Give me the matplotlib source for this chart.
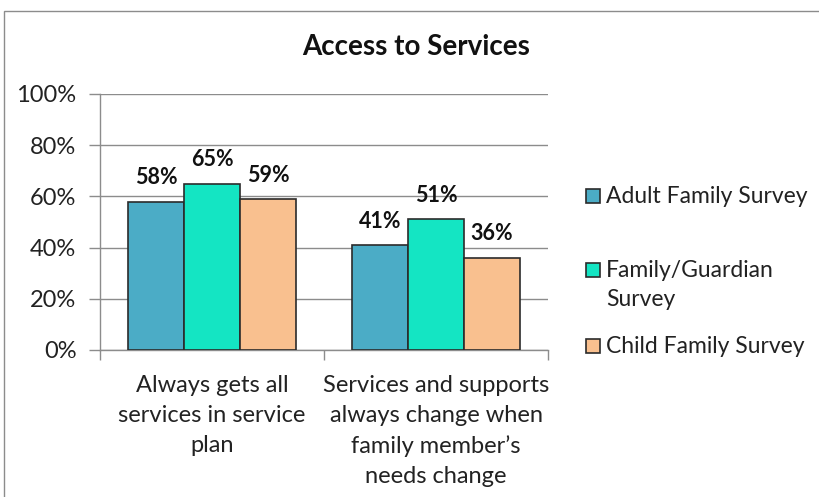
import matplotlib
matplotlib.use("Agg")
import matplotlib.pyplot as plt
from matplotlib.patches import Rectangle
import numpy as np

plt.rcParams['font.family'] = ['Lato', 'DejaVu Sans']

# Data
categories = ["Always gets all\nservices in service\nplan",
              "Services and supports\nalways change when\nfamily member\u2019s\nneeds change"]
series_names = ["Adult Family Survey", "Family/Guardian\nSurvey", "Child Family Survey"]
adult = [58, 41]
family_guardian = [65, 51]
child = [59, 36]
series_values = [adult, family_guardian, child]
colors = ["#4BACC6", "#14E5C3", "#F9C08F"]
yticks = [0, 20, 40, 60, 80, 100]
ytick_labels = ["0%", "20%", "40%", "60%", "80%", "100%"]

W, H = 819, 497
fig = plt.figure(figsize=(W / 100, H / 100), dpi=100)

# outer chart border
fig.patches.append(Rectangle((4 / W, -0.05), 1.2, 1 - 11 / H + 0.05,
                             transform=fig.transFigure, fill=False,
                             edgecolor="#8C8C8C", linewidth=1.0))

ax = fig.add_axes([100 / W, 1 - 350 / H, 448 / W, 256 / H])

x = np.arange(len(categories)) + 0.5
bw = 0.25
for i, (vals, col) in enumerate(zip(series_values, colors)):
    pos = x + (i - 1) * bw
    bars = ax.bar(pos, vals, width=bw, color=col, edgecolor="#2B2B2B",
                  linewidth=1.2, zorder=3)
    for b, v in zip(bars, vals):
        ax.annotate(f"{v}%", (b.get_x() + b.get_width() / 2, v),
                    xytext=(0, 12.5), textcoords="offset points",
                    ha="center", va="baseline", fontsize=15.5,
                    fontweight="bold", color="#111111")

ax.set_xlim(0, len(categories))
ax.set_ylim(0, 100)
ax.set_yticks(yticks)
ax.set_yticklabels(ytick_labels, fontsize=17, color="#222222")
ax.yaxis.grid(True, color="#8C8C8C", linewidth=1.0, zorder=0)
ax.set_axisbelow(True)

ax.set_xticks(np.arange(len(categories) + 1))
ax.set_xticklabels([])
ax.set_xticks(x, minor=True)
ax.set_xticklabels(categories, minor=True, fontsize=17, color="#222222",
                   linespacing=1.52, va="top")
ax.tick_params(axis="x", which="minor", length=0, pad=18)
ax.tick_params(axis="x", which="major", length=7, color="#8C8C8C", width=1.0)
ax.tick_params(axis="y", length=8, color="#8C8C8C", width=1.0, pad=9)

for s in ["top", "right"]:
    ax.spines[s].set_visible(False)
for s in ["left", "bottom"]:
    ax.spines[s].set_color("#8C8C8C")
    ax.spines[s].set_linewidth(1.0)

fig.text(416 / W, 1 - 47 / H, "Access to Services", ha="center", va="center",
         fontsize=20, fontweight="bold", color="#111111")

# legend
legend_rows = [196, 270, 346]
for name, col, yy in zip(series_names, colors, legend_rows):
    fig.patches.append(Rectangle((586 / W, 1 - (yy + 7) / H), 14 / W, 14 / H,
                                 transform=fig.transFigure, facecolor=col,
                                 edgecolor="#2B2B2B", linewidth=1.2))
    fig.text(606 / W, 1 - (yy - 10) / H, name, ha="left", va="top",
             fontsize=16.5, color="#222222", linespacing=1.5)

fig.savefig("out.png", dpi=100)
